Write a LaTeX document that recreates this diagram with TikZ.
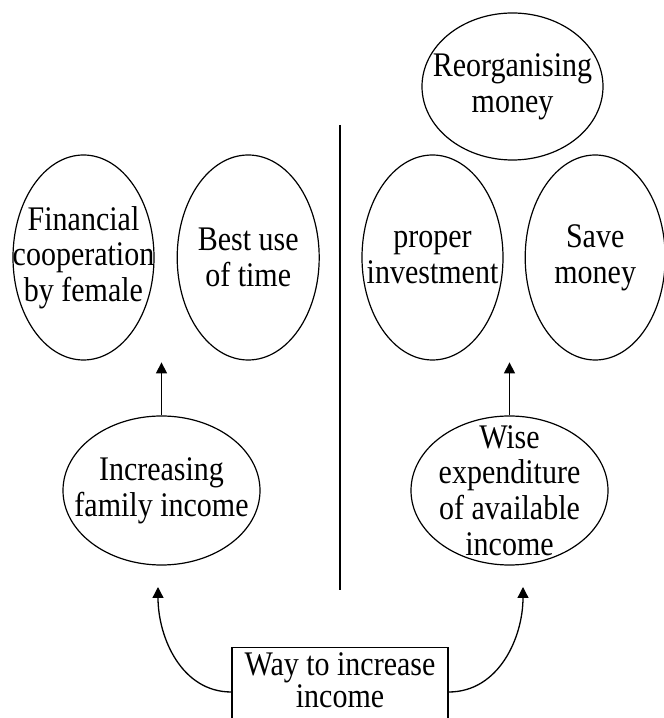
\documentclass[tikz,border=0pt]{standalone}
\usepackage{fontspec}
\setmainfont{Liberation Serif}
\usetikzlibrary{arrows.meta,positioning,shapes.geometric,calc}

\begin{document}
\begin{tikzpicture}[
    x=1pt, y=1pt,
    font=\fontsize{30}{31}\selectfont,
    oval/.style={ellipse, draw, line width=1.2pt, inner sep=0pt},
    txt/.style={align=center, inner sep=0pt, yscale=1.15, transform shape},
    box/.style={draw, line width=1.2pt, minimum width=216pt, align=center, inner xsep=4pt, inner ysep=4pt,
      text depth=22pt, yscale=1.15, transform shape, font=\fontsize{30}{28}\selectfont},
    arrow/.style={-{Triangle[length=11pt,width=11pt]}, line width=1.3pt}
  ]
  \useasboundingbox (0,0) rectangle (664,718);

  % left side
  \node[oval, minimum width=141pt, minimum height=205pt, label={[txt]center:{Financial\\cooperation\\by female}}] (female) at (83.5,460.5) {};
  \node[oval, minimum width=142pt, minimum height=205pt, right=22pt of female, label={[txt]center:{Best use\\of time}}] (time) {};
  \node[oval, minimum width=197pt, minimum height=149pt, label={[txt]center:{Increasing\\family income}}] (familyinc) at (161.5,227.5) {};

  % right side
  \node[oval, minimum width=141pt, minimum height=205pt, label={[txt]center:{proper\\investment}}] (invest) at (432.5,460.5) {};
  \node[oval, minimum width=140pt, minimum height=205pt, right=21pt of invest, label={[txt]center:{Save\\money}}] (save) {};
  \node[oval, minimum width=181pt, minimum height=147pt, label={[txt]center:{Reorganising\\money}}] (reorg) at (512.5,631.5) {};
  \node[oval, minimum width=197pt, minimum height=149pt, label={[txt]center:{Wise\\expenditure\\of available\\income}}] (wise) at (509.5,227.5) {};

  \node[box, anchor=north] (way) at (340,71) {Way to increase\\income};

  \coordinate (divTop) at (340,593);
  \coordinate (divBot) at (340,128);
  \draw[line width=1.2pt] (divTop) -- (divBot);

  \coordinate (leftUp) at ([yshift=53pt]familyinc.north);
  \coordinate (rightUp) at ([yshift=53pt]wise.north);
  \draw[arrow] (familyinc.north) -- (leftUp);
  \draw[arrow] (wise.north) -- (rightUp);

  \coordinate (familyIn) at (158,131);
  \coordinate (wiseIn) at (523,131);
  \draw[arrow] ([yshift=-45pt]way.north west) to[out=180, in=-90] (familyIn);
  \draw[arrow] ([yshift=-45pt]way.north east) to[out=0, in=-90] (wiseIn);
\end{tikzpicture}
\end{document}
